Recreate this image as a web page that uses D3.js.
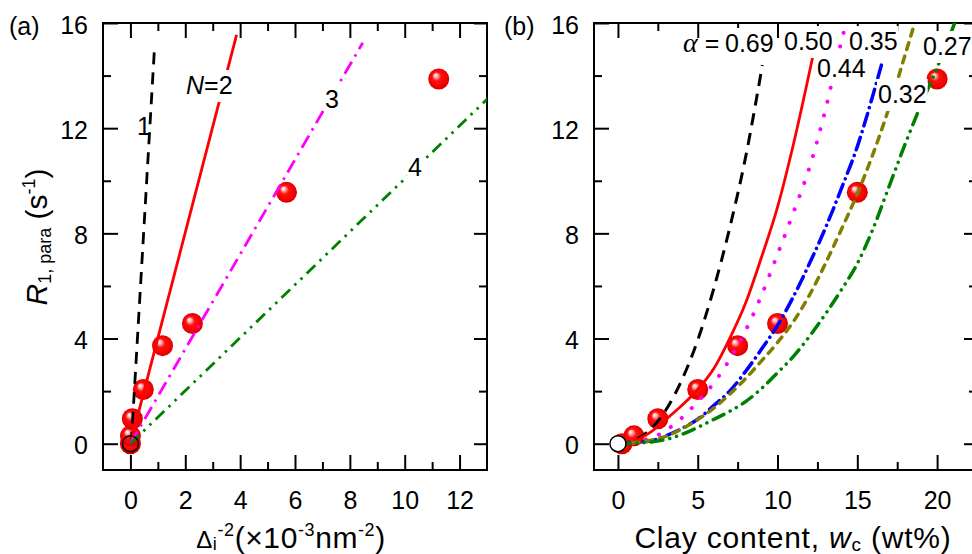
<!DOCTYPE html>
<html>
<head>
<meta charset="utf-8">
<script src="https://cdn.jsdelivr.net/npm/d3@7"></script>
<style>
  body { margin: 0; background: #fff; }
  svg text { font-family: "Liberation Sans", Arial, sans-serif; fill: #000; }
</style>
</head>
<body>
<div id="chart"></div>
<script>
// values
var rValues = [0, 0.3, 0.95, 2.06, 3.73, 4.57, 9.56, 13.87];      // R1,para (s^-1)
var deltaValues = [0, 0, 0.07, 0.47, 1.17, 2.26, 5.69, 11.24];    // Δi^-2 (1e-3 nm^-2)
var clayValues = [0.25, 1, 2.5, 5, 7.5, 10, 15, 20];              // wc (wt%)

// panel (a): straight lines, end points
var lineNames = ["1", "2", "3", "4"];
var lineEnds = [
    [[0.03, 0], [0.88, 15.1]],
    [[0, 0], [3.87, 15.55]],
    [[0, 0], [8.47, 15.25]],
    [[0, 0], [13.2, 13.3]]
];

// panel (b): model curves for each alpha
var alphaNames = ["0.69", "0.50", "0.44", "0.35", "0.32", "0.27"];
var curve069 = [[0,0],[1,0.12],[2,0.52],[3,1.28],[4,2.42],[5,3.94],[6,5.89],[7,8.2],[8,10.9],[9.05,14.4]];
var curve050 = [[0,0],[1,0.1],[2,0.42],[3,0.92],[4,1.45],[5,2.06],[6,2.85],[7,4.0],[8,5.35],[9,7.1],[10,9.0],[11,11.4],[12.2,14.7]];
var curve044 = [[0,0],[2,0.2],[4,0.98],[5,1.6],[6,2.3],[7,3.2],[8,4.3],[9,5.65],[10,7.2],[11,8.8],[12,10.5],[13,12.7],[14,15.3],[14.3,16]];
var curve035 = [[0,0],[2,0.1],[3,0.3],[4,0.58],[5,0.93],[6,1.45],[7,2.0],[8,2.75],[9,3.6],[10,4.5],[11,5.6],[12,6.85],[13,8.2],[14,9.7],[15,11.3],[16,13.3],[16.6,14.6]];
var curve032 = [[0,0],[2,0.12],[3,0.28],[4,0.56],[5,0.92],[6,1.35],[7,1.88],[8,2.48],[9,3.15],[10,3.85],[11,4.65],[12,5.65],[13,6.85],[14,8.15],[15,9.5],[16,11.05],[17,12.8],[18,14.8],[18.6,16]];
var curve027 = [[0,0],[2,0.06],[3,0.16],[4,0.35],[5,0.62],[6,0.92],[7,1.23],[8,1.6],[9,2.1],[10,2.7],[11,3.32],[12,4.08],[13,4.93],[14,5.85],[15,6.85],[16,8.2],[17,9.8],[18,11.4],[19,12.9],[20,14.3],[21.1,16]];
var alphaCurves = [curve069, curve050, curve044, curve035, curve032, curve027];

var yMajor = [0, 4, 8, 12, 16], yMinor = [2, 6, 10, 14];
var xMajorA = [0, 2, 4, 6, 8, 10, 12], xMinorA = [1, 3, 5, 7, 9, 11];
var xMajorB = [0, 5, 10, 15, 20], xMinorB = [2.5, 7.5, 12.5, 17.5];

var W = 972, H = 554;
var svg = d3.select("#chart").append("svg").attr("width", W).attr("height", H);

var defs = svg.append("defs");
var grad = defs.append("radialGradient").attr("id", "ball")
    .attr("cx", "50%").attr("cy", "50%").attr("r", "50%")
    .attr("fx", "33%").attr("fy", "30%");
grad.append("stop").attr("offset", "0%").attr("stop-color", "#ffffff");
grad.append("stop").attr("offset", "16%").attr("stop-color", "#ffc0c0");
grad.append("stop").attr("offset", "42%").attr("stop-color", "#ff1010");
grad.append("stop").attr("offset", "85%").attr("stop-color", "#f20000");
grad.append("stop").attr("offset", "100%").attr("stop-color", "#d00000");

var y = d3.scaleLinear().domain([-1, 16]).range([470, 23]);
var xA = d3.scaleLinear().domain([-1, 13]).range([103, 487]);
var xB = d3.scaleLinear().domain([-1.5, 22.5]).range([594, 977]);

function frame(x, id, xMaj, xMin) {
    var g = svg.append("g");
    var x0 = x.range()[0], x1 = x.range()[1], y0 = y.range()[0], y1 = y.range()[1];

    defs.append("clipPath").attr("id", id)
        .append("rect").attr("x", x0).attr("y", y1).attr("width", x1 - x0).attr("height", y0 - y1);

    function ax(gen, tr, size, vals, labels, pad) {
        var a = g.append("g").attr("transform", tr)
            .call(gen.tickValues(vals).tickSize(size).tickPadding(pad || 3)
                .tickFormat(labels ? d3.format("d") : ""));
        a.select(".domain").remove();
        a.selectAll("line").attr("stroke-width", 2);
        a.selectAll("text").style("font-size", "25px").attr("font-family", null);
        return a;
    }
    ax(d3.axisBottom(x), "translate(0," + y0 + ")", -15, xMaj, true, 21);
    ax(d3.axisBottom(x), "translate(0," + y0 + ")", -8, xMin, false);
    ax(d3.axisTop(x), "translate(0," + y1 + ")", -15, xMaj, false);
    ax(d3.axisTop(x), "translate(0," + y1 + ")", -8, xMin, false);
    var yl = ax(d3.axisLeft(y), "translate(" + x0 + ",0)", -15, yMajor, true, 15);
    yl.selectAll("text").attr("dy", "0.4em");
    ax(d3.axisLeft(y), "translate(" + x0 + ",0)", -8, yMinor, false);
    ax(d3.axisRight(y), "translate(" + x1 + ",0)", -13, yMajor, false);
    ax(d3.axisRight(y), "translate(" + x1 + ",0)", -8, yMinor, false);

    g.append("rect").attr("x", x0).attr("y", y1).attr("width", x1 - x0).attr("height", y0 - y1)
        .attr("fill", "none").attr("stroke", "#000").attr("stroke-width", 2);
    return svg.append("g").attr("clip-path", "url(#" + id + ")");
}

function balls(g, xs, ys) {
    g.selectAll("circle.ball").data(xs).join("circle").attr("class", "ball")
        .attr("cx", function (d) { return d; }).attr("cy", function (d, i) { return ys[i]; })
        .attr("r", 10.5).attr("fill", "url(#ball)");
}

// white box behind a label so the line under it is hidden
function knockout(g, t) {
    var b = t.node().getBBox();
    g.insert("rect", function () { return t.node(); }).attr("fill", "#fff")
        .attr("x", b.x - 1).attr("y", b.y - 1).attr("width", b.width + 2).attr("height", b.height + 4);
}

// ---------- panel (a)
var pa = frame(xA, "clipA", xMajorA, xMinorA);
balls(pa, deltaValues.map(function (d) { return xA(d); }), rValues.map(function (d) { return y(d); }));

var lineStylesA = [
    { color: "#000", dash: "12,8", w: 2.8 },
    { color: "#ff0000", dash: null, w: 2.8 },
    { color: "#ff00ff", dash: "14,6,2.5,6", w: 2.8 },
    { color: "#008000", dash: "12,6,2.5,6,2.5,6", w: 2.8 }
];
var lineA = d3.line().x(function (d) { return xA(d[0]); }).y(function (d) { return y(d[1]); });
pa.selectAll("path.fit").data(lineEnds).join("path").attr("class", "fit")
    .attr("d", lineA).attr("fill", "none")
    .attr("stroke", function (d, i) { return lineStylesA[i].color; })
    .attr("stroke-width", function (d, i) { return lineStylesA[i].w; })
    .attr("stroke-dasharray", function (d, i) { return lineStylesA[i].dash; });

pa.append("circle").attr("cx", xA(0)).attr("cy", y(0)).attr("r", 8)
    .attr("fill", "none").attr("stroke", "#000").attr("stroke-width", 1.5);

var labA = svg.append("g").style("font-size", "25px");
var t1 = labA.append("text").attr("x", 137).attr("y", 135).text(lineNames[0]);
var t2 = labA.append("text").attr("x", 186).attr("y", 94);
t2.append("tspan").style("font-style", "italic").text("N");
t2.append("tspan").text("=" + lineNames[1]);
var t3 = labA.append("text").attr("x", 325).attr("y", 108).text(lineNames[2]);
var t4 = labA.append("text").attr("x", 408).attr("y", 176).text(lineNames[3]);
[t2, t3, t4].forEach(function (t) { knockout(labA, t); });

// ---------- panel (b)
var pb = frame(xB, "clipB", xMajorB, xMinorB);
balls(pb, clayValues.map(function (d) { return xB(d); }), rValues.map(function (d) { return y(d); }));

var curveStyles = [
    { color: "#000", dash: "12,8", w: 3, cap: "butt" },
    { color: "#ff0000", dash: null, w: 2.8, cap: "butt" },
    { color: "#ff00ff", dash: "0.1,14", w: 4, cap: "round" },
    { color: "#0000ff", dash: "13,6,0.1,6", w: 3.5, cap: "round" },
    { color: "#808000", dash: "7,7", w: 3.5, cap: "round" },
    { color: "#008000", dash: "12,7,0.1,7,0.1,7", w: 3.5, cap: "round" }
];
var lineB = d3.line().x(function (d) { return xB(d[0]); }).y(function (d) { return y(d[1]); })
    .curve(d3.curveMonotoneX);
pb.selectAll("path.model").data(alphaCurves).join("path").attr("class", "model")
    .attr("d", lineB).attr("fill", "none")
    .attr("stroke", function (d, i) { return curveStyles[i].color; })
    .attr("stroke-width", function (d, i) { return curveStyles[i].w; })
    .attr("stroke-linecap", function (d, i) { return curveStyles[i].cap; })
    .attr("stroke-dasharray", function (d, i) { return curveStyles[i].dash; });

pb.append("circle").attr("cx", xB(0)).attr("cy", y(0)).attr("r", 8)
    .attr("fill", "#fff").attr("stroke", "#000").attr("stroke-width", 1.5);

// alpha labels, knocked out over the curves
var labPos = [[725, 52], [784, 50], [817, 77], [849, 50], [878, 103], [923, 55]];
var labB = svg.append("g").attr("clip-path", "url(#clipB)").style("font-size", "25px");
alphaNames.forEach(function (name, i) {
    var t = labB.append("text").attr("x", labPos[i][0]).attr("y", labPos[i][1]).text(name);
    knockout(labB, t);
});
var al = svg.append("text").attr("x", 683).attr("y", 52).style("font-size", "25px");
al.append("tspan").style("font-family", "'Liberation Serif', serif").style("font-style", "italic").style("font-size", "28px").text("α");
al.append("tspan").text(" =");

// ---------- panel tags and titles
svg.append("text").attr("x", 9).attr("y", 35).style("font-size", "25px").text("(a)");
svg.append("text").attr("x", 504).attr("y", 35).style("font-size", "25px").text("(b)");

var yt = svg.append("text").attr("transform", "translate(47,237) rotate(-90)")
    .attr("text-anchor", "middle").style("font-size", "30px");
yt.append("tspan").style("font-style", "italic").text("R");
yt.append("tspan").style("font-size", "18px").attr("dy", 4).text("1, para");
yt.append("tspan").attr("dy", -4).text(" (s");
yt.append("tspan").style("font-size", "18px").attr("dy", -12).text("-1");
yt.append("tspan").attr("dy", 12).text(")");

var xtA = svg.append("text").attr("x", 291).attr("y", 548).attr("text-anchor", "middle")
    .style("font-size", "30px").style("letter-spacing", "0.6px");
xtA.append("tspan").style("font-size", "24px").text("Δ");
xtA.append("tspan").style("font-size", "18px").attr("dy", 2).text("i");
xtA.append("tspan").style("font-size", "18px").attr("dy", -14).text("-2");
xtA.append("tspan").attr("dy", 12).text("(×10");
xtA.append("tspan").style("font-size", "18px").attr("dy", -12).text("-3");
xtA.append("tspan").attr("dy", 12).text("nm");
xtA.append("tspan").style("font-size", "18px").attr("dy", -12).text("-2");
xtA.append("tspan").attr("dy", 12).text(")");

var xtB = svg.append("text").attr("x", 793).attr("y", 548).attr("text-anchor", "middle")
    .style("font-size", "30px").style("letter-spacing", "0.8px");
xtB.append("tspan").text("Clay content, ");
xtB.append("tspan").style("font-style", "italic").text("w");
xtB.append("tspan").style("font-size", "19px").attr("dy", 3).text("c");
xtB.append("tspan").attr("dy", -3).text(" (wt%)");
</script>
</body>
</html>
